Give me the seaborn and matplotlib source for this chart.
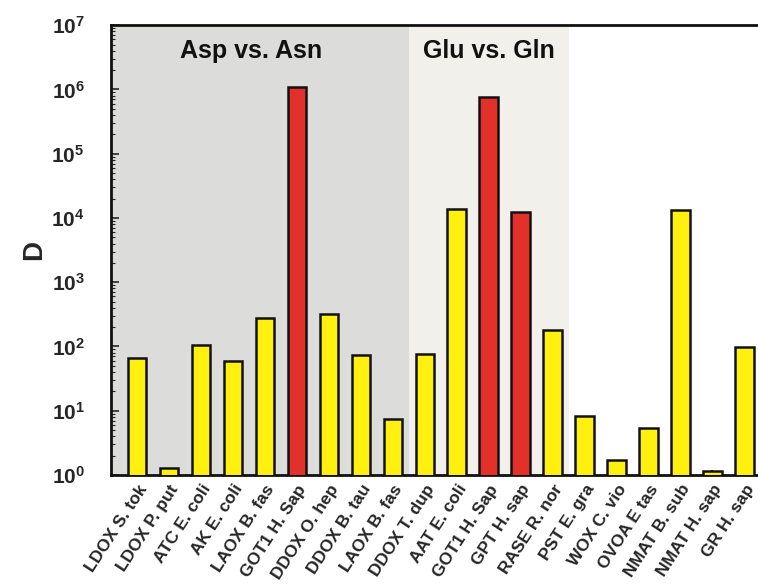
import matplotlib
matplotlib.use("Agg")
import matplotlib.pyplot as plt
import matplotlib.ticker as mticker
import numpy as np
import pandas as pd
import seaborn as sns

# Enzymes (tick labels, left to right)
enzymes = [
    "LDOX S. tok", "LDOX P. put", "ATC E. coli", "AK E. coli", "LAOX B. fas",
    "GOT1 H. Sap", "DDOX O. hep", "DDOX B. tau", "LAOX B. fas", "DDOX T. dup",
    "AAT E. coli", "GOT1 H. Sap", "GPT H. sap", "RASE R. nor", "PST E. gra",
    "WOX C. vio", "OVOA E tas", "NMAT B. sub", "NMAT H. sap", "GR H. sap",
]
# Discrimination factor D
d_values = [
    66, 1.28, 105, 59, 275,
    1.08e6, 318, 73, 7.4, 76,
    13700, 7.6e5, 12300, 178, 8.3,
    1.71, 5.4, 13200, 1.15, 98,
]
# Bar class: "hi" = red, "lo" = yellow
bar_class = [
    "lo", "lo", "lo", "lo", "lo",
    "hi", "lo", "lo", "lo", "lo",
    "lo", "hi", "hi", "lo", "lo",
    "lo", "lo", "lo", "lo", "lo",
]
# Group shading: (first index, last index, title)
groups = [(0, 8, "Asp vs. Asn"), (9, 13, "Glu vs. Gln")]
group_colors = ["#dcdcda", "#f2f0eb"]
# Small error on the NMAT H. sap bar
nmat_err = 0.05

df = pd.DataFrame({"pos": np.arange(len(enzymes)), "D": d_values, "cls": bar_class})

sns.set_theme(style="white")
plt.rcParams["font.family"] = ["Liberation Sans", "DejaVu Sans"]
plt.rcParams["font.weight"] = "bold"

fig = plt.figure(figsize=(7.58, 5.85), dpi=100)
ax = fig.add_axes([0.1464, 0.188, 0.8536 + 0.02, 0.769])
ax.set_yscale("log")

sns.barplot(data=df, x="pos", y="D", hue="cls", dodge=False,
            palette={"lo": "#fff00f", "hi": "#e2302a"}, saturation=1,
            width=0.58, edgecolor="#111111", linewidth=1.8,
            legend=False, ax=ax, zorder=3)

ax.errorbar([18], [d_values[18]], yerr=[nmat_err], fmt="none",
            ecolor="#111111", elinewidth=1.5, capsize=0, zorder=4)

# Shaded groups with titles
for (i0, i1, title), col in zip(groups, group_colors):
    ax.axvspan(i0 - 0.5 if i0 > 0 else -0.9, i1 + 0.5, color=col, zorder=0, lw=0)
    cx = (i0 + i1) / 2 - (0.45 if i0 == 0 else 0)
    ax.text(cx, 3.9e6, title, ha="center", va="center", fontsize=18,
            fontweight="bold", color="#111111")

ax.set_xlim(-0.82, 19.9)
ax.set_ylim(1, 1e7)

ax.yaxis.set_major_locator(mticker.LogLocator(base=10, numticks=10))
ax.yaxis.set_minor_locator(mticker.LogLocator(base=10, subs=np.arange(2, 10), numticks=20))
ax.yaxis.set_minor_formatter(mticker.NullFormatter())
ax.tick_params(axis="y", which="major", direction="in", length=6, width=1.2,
               left=True, labelsize=15, pad=19)
ax.tick_params(axis="y", which="minor", direction="in", length=3, width=0.8, left=True)
ax.tick_params(axis="x", length=0, pad=5)

ax.set_xticks(range(len(enzymes)))
ax.set_xticklabels(enzymes, rotation=57, ha="right", rotation_mode="anchor",
                   fontsize=12.5, fontweight="bold")
for lbl in ax.get_yticklabels():
    lbl.set_fontweight("bold")

ax.set_xlabel("")
ax.set_ylabel("D", fontsize=20, fontweight="bold", labelpad=3)

for side in ["left", "top", "bottom"]:
    ax.spines[side].set_visible(True)
    ax.spines[side].set_color("#111111")
    ax.spines[side].set_linewidth(2.0)
ax.spines["right"].set_visible(False)

fig.savefig("out.png", dpi=100)
